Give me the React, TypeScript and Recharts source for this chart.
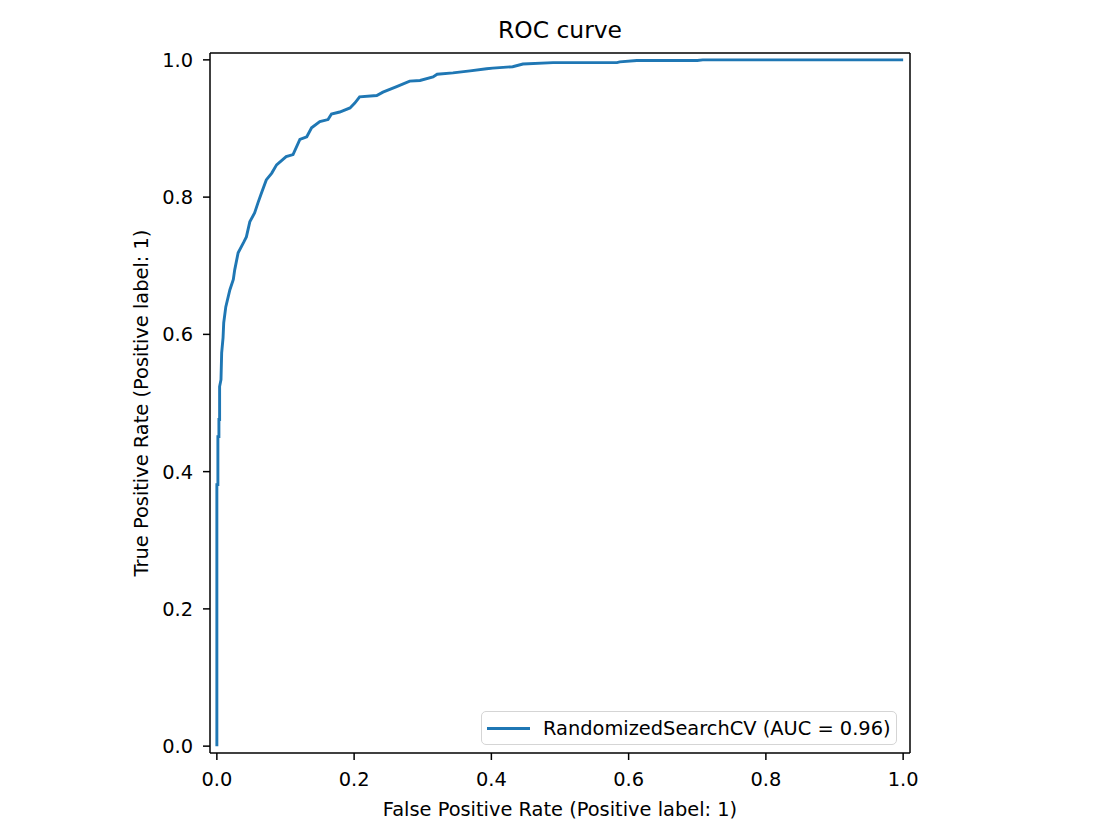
import { LineChart, Line, XAxis, YAxis, ReferenceLine, Legend } from "recharts";

// ROC points (false positive rate / true positive rate)
const fpr = [
  0, 0, 0.0015, 0.0015, 0.003, 0.003, 0.004, 0.004, 0.006, 0.007, 0.009, 0.01, 0.013,
  0.019, 0.024, 0.026, 0.031, 0.039, 0.043, 0.048, 0.055, 0.06, 0.065, 0.072, 0.08,
  0.087, 0.101, 0.111, 0.121, 0.131, 0.138, 0.15, 0.162, 0.167, 0.179, 0.194, 0.201,
  0.208, 0.233, 0.242, 0.262, 0.281, 0.296, 0.315, 0.321, 0.344, 0.369, 0.393, 0.402,
  0.431, 0.446, 0.49, 0.583, 0.587, 0.612, 0.7, 0.708, 1.0,
];
const tpr = [
  0, 0.381, 0.381, 0.451, 0.451, 0.476, 0.476, 0.524, 0.534, 0.573, 0.595, 0.617, 0.64,
  0.665, 0.68, 0.694, 0.719, 0.734, 0.742, 0.764, 0.777, 0.792, 0.806, 0.825, 0.835,
  0.847, 0.859, 0.862, 0.884, 0.888, 0.901, 0.91, 0.913, 0.921, 0.924, 0.93, 0.937,
  0.946, 0.948, 0.953, 0.961, 0.969, 0.97, 0.975, 0.979, 0.981, 0.984, 0.987, 0.988,
  0.99, 0.994, 0.996, 0.996, 0.997, 0.999, 0.999, 1.0, 1.0,
];
const ticks = [0, 0.2, 0.4, 0.6, 0.8, 1.0];
const seriesName = "RandomizedSearchCV (AUC = 0.96)";
const title = "ROC curve";
const xLabel = "False Positive Rate (Positive label: 1)";
const yLabel = "True Positive Rate (Positive label: 1)";

const data = fpr.map((x, i) => ({ fpr: x, tpr: tpr[i] }));

const FONT = "DejaVu Sans";
const BLUE = "#1f77b4";
const FS = 19.4;
const tickStyle = { fill: "#000", fontSize: FS, fontFamily: FONT };
const lineStyle = { stroke: "#000", strokeWidth: 1.5 };

const renderTitle = (props: any) => {
  const { x, y, width } = props.viewBox;
  return (
    <text x={x + width / 2} y={y - 15} textAnchor="middle" fontSize={23.4} fontFamily={FONT} fill="#000">
      {title}
    </text>
  );
};

const renderXLabel = (props: any) => {
  const { x, y, width } = props.viewBox;
  return (
    <text x={x + width / 2} y={y + 63} textAnchor="middle" fontSize={FS} fontFamily={FONT} fill="#000">
      {xLabel}
    </text>
  );
};

const renderYLabel = (props: any) => {
  const { x, y, height } = props.viewBox;
  const cx = x + 18;
  const cy = y + height / 2;
  return (
    <text x={cx} y={cy} transform={`rotate(-90 ${cx} ${cy})`} textAnchor="middle" fontSize={FS} fontFamily={FONT} fill="#000">
      {yLabel}
    </text>
  );
};

const renderLegend = () => (
  <div
    style={{
      boxSizing: "border-box",
      width: 416,
      height: 34,
      border: "1.5px solid #d5d5d5",
      borderRadius: 5,
      background: "rgba(255,255,255,0.8)",
      display: "flex",
      alignItems: "center",
      paddingLeft: 5,
      fontFamily: FONT,
      fontSize: FS,
      color: "#000",
      whiteSpace: "nowrap",
    }}
  >
    <span style={{ display: "inline-block", width: 43, height: 3, background: BLUE, marginRight: 13 }} />
    {seriesName}
  </div>
);

export default function App() {
  return (
    <LineChart
      width={1104}
      height={824}
      data={data}
      margin={{ top: 45, right: 202, bottom: 19, left: 122 }}
    >
      <XAxis
        dataKey="fpr"
        type="number"
        domain={[-0.01, 1.01]}
        allowDataOverflow
        ticks={ticks}
        tickFormatter={(v: number) => v.toFixed(1)}
        height={60}
        tickSize={7}
        tickMargin={12}
        tick={tickStyle}
        tickLine={lineStyle}
        axisLine={lineStyle}
        label={{ content: renderXLabel }}
      />
      <YAxis
        dataKey="tpr"
        type="number"
        domain={[-0.01, 1.01]}
        allowDataOverflow
        ticks={ticks}
        tickFormatter={(v: number) => v.toFixed(1)}
        width={80}
        tickSize={7}
        tickMargin={10}
        tick={tickStyle}
        tickLine={lineStyle}
        axisLine={lineStyle}
        label={{ content: renderYLabel }}
      />
      <ReferenceLine y={1.01} stroke="#000" strokeWidth={1.5} label={{ content: renderTitle }} />
      <ReferenceLine x={1.01} stroke="#000" strokeWidth={1.5} />
      <Line
        type="linear"
        dataKey="tpr"
        name={seriesName}
        stroke={BLUE}
        strokeWidth={2.9}
        dot={false}
        isAnimationActive={false}
      />
      <Legend
        layout="horizontal"
        verticalAlign="middle"
        align="center"
        content={renderLegend}
        wrapperStyle={{ left: 473, top: 703, width: 416, height: 34 }}
      />
    </LineChart>
  );
}
